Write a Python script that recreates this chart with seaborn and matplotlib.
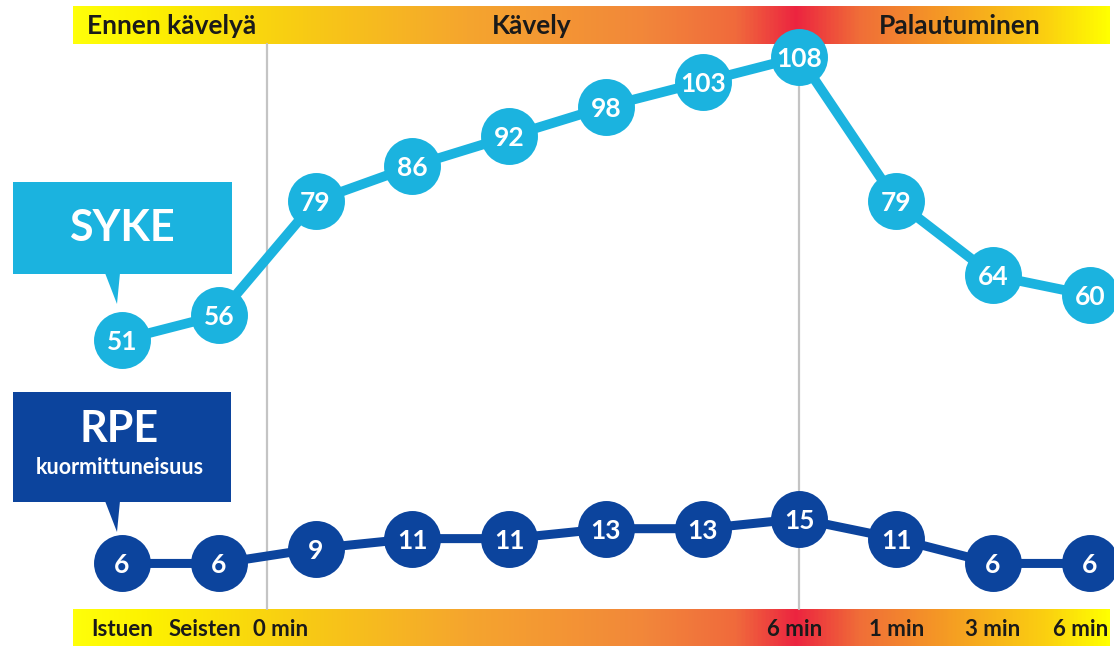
import numpy as np
import pandas as pd
import matplotlib
matplotlib.use("Agg")
import matplotlib.pyplot as plt
from matplotlib.colors import LinearSegmentedColormap
from matplotlib.patches import Rectangle, Polygon
from matplotlib.transforms import blended_transform_factory
import seaborn as sns

# ---- data ----
syke = [51, 56, 79, 86, 92, 98, 103, 108, 79, 64, 60]
rpe = [6, 6, 9, 11, 11, 13, 13, 15, 11, 6, 6]
tick_labels = ["Istuen", "Seisten", "0 min", "6 min", "1 min", "3 min", "6 min"]
phases = ["Ennen kävelyä", "Kävely", "Palautuminen"]

# ---- style ----
sns.set_theme(style="white")
plt.rcParams["font.family"] = ["Lato", "DejaVu Sans"]

W, H = 1114, 648
fig = plt.figure(figsize=(W / 100, H / 100), dpi=100)

# decoration axes in pixel coordinates
deco = fig.add_axes([0, 0, 1, 1], zorder=0)
deco.set_xlim(0, W)
deco.set_ylim(H, 0)
deco.axis("off")

# main data axes
ax = fig.add_axes([0, 0, 1, 1], zorder=1)
ax.patch.set_alpha(0)
ax.set_xlim(-1.26, 10.25)
ax.set_ylim(-11.03, 119.48)
ax.axis("off")

c_syke = "#1bb3df"
c_rpe = "#0c449d"

# gradient bands
cmap = LinearSegmentedColormap.from_list("band", [
    (0.00, "#ffff0a"), (0.07, "#fdf200"), (0.22, "#f8cb14"),
    (0.38, "#f5a52e"), (0.55, "#f2873a"), (0.64, "#f06a3c"),
    (0.698, "#ec2440"), (0.76, "#f06e38"), (0.86, "#f6a420"),
    (0.94, "#fbd010"), (1.00, "#ffff00")])
grad = np.linspace(0, 1, 512).reshape(1, -1)
bx0, bx1 = 73, 1110
for (y0, y1) in [(6, 44), (609, 646)]:
    deco.imshow(grad, cmap=cmap, aspect="auto", extent=(bx0, bx1, y1, y0),
                interpolation="bilinear", zorder=0)
deco.set_xlim(0, W)
deco.set_ylim(H, 0)

# phase labels
for txt, xc in zip(phases, [172, 532, 960]):
    deco.text(xc, 26, txt, ha="center", va="center", fontsize=19,
              fontweight="bold", color="#1a1a1a", zorder=2)

# separators
for xv in [1.5, 7]:
    ax.axvline(xv, ymin=1 - 609 / H, ymax=1 - 44 / H, color="#c4c4c4",
               lw=1.6, zorder=1)

# callouts
deco.add_patch(Rectangle((13, 182), 219, 92, color=c_syke, zorder=2, lw=0))
deco.add_patch(Polygon([(105, 273), (120, 273), (117, 304)], closed=True,
                       color=c_syke, zorder=2, lw=0))
deco.text(122, 228, "SYKE", ha="center", va="center", color="white",
          fontsize=31, fontweight="bold", zorder=3)

deco.add_patch(Rectangle((13, 392), 218, 110, color=c_rpe, zorder=2, lw=0))
deco.add_patch(Polygon([(105, 501), (120, 501), (117, 532)], closed=True,
                       color=c_rpe, zorder=2, lw=0))
deco.text(119, 429, "RPE", ha="center", va="center", color="white",
          fontsize=31, fontweight="bold", zorder=3)
deco.text(120, 468, "kuormittuneisuus", ha="center", va="center",
          color="white", fontsize=15.5, fontweight="bold", zorder=3)

# data lines
x = np.arange(len(syke))
df = pd.DataFrame({"x": x, "syke": syke, "rpe": rpe})
sns.lineplot(data=df, x="x", y="syke", ax=ax, color=c_syke, lw=7,
             marker="o", markersize=41, markeredgewidth=0, zorder=3)
sns.lineplot(data=df, x="x", y="rpe", ax=ax, color=c_rpe, lw=6.5,
             marker="o", markersize=41, markeredgewidth=0, zorder=3)
ax.set_xlim(-1.26, 10.25)
ax.set_ylim(-11.03, 119.48)
ax.axis("off")

for xi, v in zip(x, syke):
    ax.text(xi, v, str(v), ha="center", va="center_baseline", color="white",
            fontsize=19, fontweight="bold", zorder=4)
for xi, v in zip(x, rpe):
    ax.text(xi, v, str(v), ha="center", va="center_baseline", color="white",
            fontsize=19, fontweight="bold", zorder=4)

# bottom tick labels
tick_pos = [0, 0.86, 1.64, 6.95, 8, 9, 9.9]
trans = blended_transform_factory(ax.transData, deco.transData)
for p, lab in zip(tick_pos, tick_labels):
    fig.text(p, 629, lab, transform=trans, ha="center", va="center",
             fontsize=16, fontweight="bold", color="#1a1a1a", zorder=5)

fig.savefig("out.png", dpi=100)
